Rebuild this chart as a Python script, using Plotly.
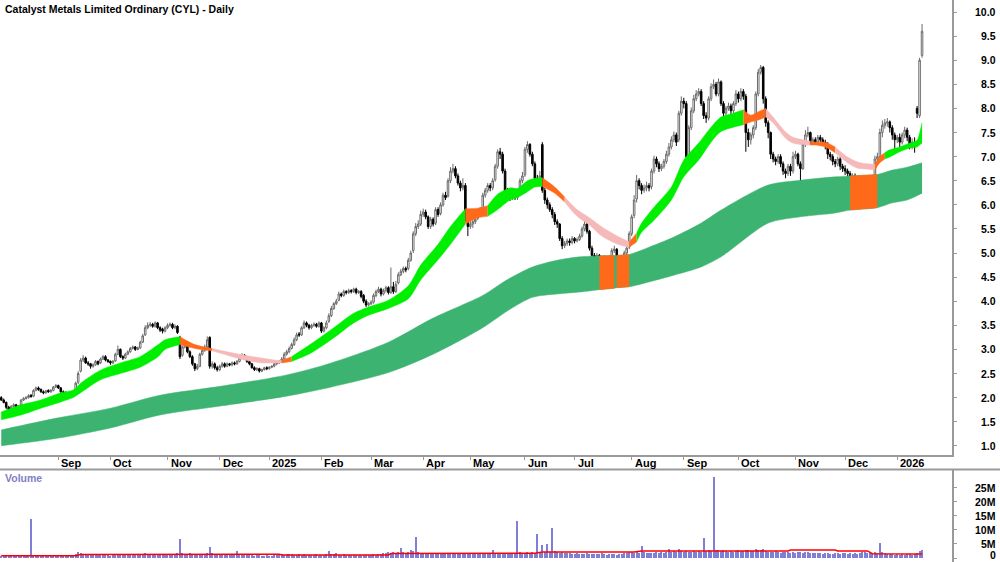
import numpy as np
import pandas as pd
import plotly.graph_objects as go

# ---------------- trading calendar (ASX) ----------------
holidays = pd.to_datetime(["2024-12-25", "2024-12-26", "2025-01-01", "2025-01-27", "2025-04-18",
                           "2025-04-21", "2025-04-25", "2025-06-09", "2025-12-25", "2025-12-26",
                           "2026-01-01"])
days = pd.bdate_range("2024-07-31", "2026-01-16")
days = days[~days.isin(holidays)]

# ---------------- price data ----------------
open_ = [2.00,1.95,1.90,1.80,1.76,1.82,1.85,1.80,1.84,1.95,
 1.98,2.00,2.05,2.03,2.15,2.20,2.17,2.12,2.10,2.15,
 2.12,2.15,2.22,2.25,2.20,2.12,2.10,2.08,2.05,2.10,
 2.10,2.32,2.55,2.78,2.82,2.72,2.70,2.65,2.68,2.75,
 2.72,2.80,2.85,2.78,2.75,2.72,2.76,2.90,3.00,2.85,
 2.82,2.90,2.95,3.02,3.05,3.00,3.03,3.15,3.30,3.45,
 3.50,3.52,3.48,3.55,3.45,3.42,3.38,3.45,3.50,3.52,
 3.45,3.48,3.25,2.88,3.05,3.10,2.95,2.85,2.70,2.60,
 2.65,2.90,2.98,3.05,3.25,2.65,2.70,2.62,2.58,2.65,
 2.70,2.65,2.70,2.68,2.72,2.70,2.75,2.82,2.88,2.80,
 2.75,2.70,2.62,2.58,2.60,2.55,2.58,2.62,2.60,2.63,
 2.65,2.70,2.72,2.75,2.80,2.90,2.95,3.02,3.10,3.20,
 3.32,3.30,3.45,3.55,3.50,3.45,3.50,3.52,3.48,3.55,
 3.38,3.45,3.58,3.70,3.85,3.95,4.02,4.15,4.12,4.20,
 4.18,4.22,4.20,4.25,4.18,4.20,4.12,4.00,3.92,3.95,
 3.98,4.12,4.20,4.25,4.15,4.22,4.28,4.18,4.30,4.20,
 4.38,4.55,4.62,4.68,4.68,4.85,5.05,5.40,5.55,5.60,
 5.80,5.85,5.75,5.55,5.70,5.62,5.90,5.82,6.00,6.20,
 6.18,6.50,6.70,6.75,6.60,6.45,6.35,6.40,5.72,5.55,
 5.60,5.65,5.72,5.80,5.90,6.20,6.30,6.40,6.35,6.52,
 6.80,7.10,7.05,6.70,6.30,6.20,6.15,6.25,6.15,6.22,
 6.50,6.62,7.15,7.25,7.05,6.85,6.55,6.50,7.25,6.30,
 6.10,6.00,5.90,5.80,5.65,5.60,5.30,5.15,5.20,5.25,
 5.22,5.30,5.25,5.28,5.35,5.50,5.60,5.45,5.10,4.95,
 4.90,4.95,4.88,4.92,4.85,4.82,4.90,5.05,5.08,4.80,
 4.75,4.85,5.00,5.12,5.40,5.78,6.12,6.50,6.40,6.30,
 6.35,6.40,6.38,6.70,6.95,6.85,6.75,6.80,6.90,7.05,
 7.20,7.35,7.45,7.35,7.90,8.15,8.10,7.00,7.60,7.95,
 8.20,8.30,8.35,8.10,7.85,7.80,8.20,8.45,8.50,8.30,
 8.55,8.10,7.90,8.00,8.05,7.95,8.10,8.30,8.20,8.35,
 8.25,7.50,7.35,7.45,7.60,8.30,8.75,8.85,8.20,7.70,
 7.50,7.05,6.95,6.90,7.00,6.85,6.70,6.65,6.80,6.70,
 7.00,7.05,6.85,6.75,7.25,7.45,7.50,7.30,7.35,7.30,
 7.40,7.35,7.30,7.25,7.05,7.00,6.90,6.85,6.95,6.80,
 6.75,6.70,6.65,6.55,6.60,6.50,6.55,6.45,6.30,6.15,
 6.50,6.45,6.55,6.95,7.00,7.50,7.65,7.70,7.72,7.60,
 7.45,7.35,7.40,7.30,7.45,7.55,7.40,7.25,7.30,8.00,
 7.85,9.10]

high = [2.03,1.98,1.92,1.83,1.84,1.88,1.87,1.85,1.97,2.01,
 2.03,2.07,2.07,2.17,2.23,2.23,2.19,2.15,2.16,2.17,
 2.18,2.24,2.28,2.27,2.22,2.15,2.13,2.10,2.12,2.13,
 2.33,2.55,2.82,2.88,2.85,2.76,2.72,2.71,2.78,2.77,
 2.83,2.88,2.88,2.80,2.77,2.78,2.93,3.08,3.02,2.88,
 2.93,2.98,3.05,3.08,3.07,3.06,3.18,3.32,3.50,3.56,
 3.57,3.55,3.58,3.57,3.48,3.45,3.48,3.54,3.56,3.55,
 3.52,3.50,3.28,3.08,3.15,3.12,2.98,2.88,2.72,2.70,
 2.93,3.02,3.10,3.27,3.27,2.75,2.73,2.66,2.68,2.74,
 2.73,2.73,2.72,2.75,2.75,2.78,2.85,2.92,2.90,2.83,
 2.78,2.72,2.65,2.63,2.62,2.60,2.64,2.65,2.65,2.67,
 2.73,2.75,2.78,2.84,2.94,2.99,3.06,3.14,3.25,3.35,
 3.36,3.48,3.60,3.58,3.53,3.53,3.56,3.55,3.58,3.57,
 3.48,3.60,3.75,3.90,3.98,4.05,4.20,4.18,4.24,4.23,
 4.26,4.25,4.28,4.28,4.23,4.23,4.15,4.04,3.98,4.02,
 4.16,4.24,4.30,4.28,4.26,4.32,4.31,4.70,4.40,4.42,
 4.60,4.67,4.72,4.72,4.90,5.05,5.45,5.62,5.68,5.88,
 5.92,5.90,5.78,5.75,5.74,5.95,5.95,6.05,6.25,6.27,
 6.55,6.78,6.85,6.80,6.65,6.50,6.55,6.45,5.78,5.68,
 5.70,5.75,5.85,5.95,6.25,6.35,6.45,6.45,6.55,6.85,
 7.15,7.18,7.10,6.75,6.35,6.25,6.30,6.30,6.25,6.55,
 6.68,7.20,7.32,7.28,7.10,6.90,6.62,6.70,7.30,6.35,
 6.15,6.05,5.95,5.85,5.70,5.62,5.35,5.25,5.30,5.30,
 5.35,5.33,5.32,5.40,5.55,5.72,5.65,5.48,5.15,5.00,
 5.00,4.98,4.95,4.95,4.88,4.95,5.10,5.15,5.10,4.85,
 4.90,5.05,5.18,5.45,5.80,6.20,6.62,6.55,6.45,6.42,
 6.48,6.45,6.75,7.02,7.00,6.90,6.85,6.95,7.12,7.28,
 7.42,7.52,7.50,7.95,8.25,8.22,8.15,7.65,8.02,8.28,
 8.38,8.42,8.40,8.15,7.92,8.25,8.52,8.60,8.55,8.62,
 8.58,8.15,8.05,8.12,8.10,8.15,8.38,8.35,8.42,8.40,
 8.30,7.58,7.50,7.65,8.35,8.82,8.90,8.88,8.25,7.75,
 7.52,7.10,7.00,7.05,7.05,6.90,6.75,6.85,6.85,7.10,
 7.12,7.08,6.90,7.30,7.55,7.62,7.52,7.40,7.40,7.45,
 7.45,7.40,7.35,7.30,7.10,7.05,6.95,7.00,7.00,6.85,
 6.82,6.75,6.70,6.65,6.65,6.60,6.60,6.50,6.35,6.55,
 6.60,6.62,7.02,7.08,7.58,7.75,7.78,7.80,7.75,7.65,
 7.50,7.45,7.48,7.50,7.62,7.60,7.45,7.38,7.40,8.05,
 9.05,9.75]

low = [1.93,1.88,1.76,1.72,1.74,1.80,1.78,1.78,1.82,1.93,
 1.96,1.98,2.00,2.01,2.13,2.14,2.10,2.07,2.08,2.10,
 2.10,2.13,2.20,2.18,2.10,2.07,2.05,2.02,2.03,2.05,
 2.08,2.28,2.52,2.74,2.70,2.66,2.60,2.62,2.66,2.67,
 2.70,2.78,2.75,2.72,2.68,2.70,2.74,2.88,2.82,2.78,
 2.80,2.88,2.93,3.00,2.97,2.98,3.01,3.13,3.28,3.42,
 3.46,3.45,3.45,3.42,3.36,3.33,3.35,3.42,3.47,3.42,
 3.42,3.32,2.80,2.85,3.02,2.92,2.82,2.66,2.55,2.57,
 2.63,2.87,2.95,3.02,2.60,2.60,2.58,2.54,2.55,2.62,
 2.62,2.63,2.65,2.65,2.67,2.68,2.73,2.80,2.78,2.72,
 2.67,2.60,2.55,2.55,2.52,2.53,2.56,2.57,2.58,2.61,
 2.63,2.67,2.70,2.73,2.78,2.87,2.92,3.00,3.07,3.17,
 3.26,3.28,3.42,3.46,3.41,3.42,3.47,3.45,3.45,3.34,
 3.35,3.42,3.55,3.67,3.82,3.92,4.00,4.08,4.09,4.14,
 4.15,4.16,4.17,4.14,4.15,4.06,3.96,3.88,3.89,3.92,
 3.95,4.08,4.17,4.10,4.12,4.18,4.14,4.15,4.15,4.17,
 4.35,4.52,4.58,4.60,4.64,4.82,5.00,5.35,5.50,5.56,
 5.75,5.70,5.50,5.50,5.55,5.58,5.75,5.78,5.96,6.10,
 6.15,6.45,6.65,6.55,6.40,6.28,6.30,5.65,5.35,5.50,
 5.52,5.60,5.68,5.75,5.85,6.15,6.25,6.28,6.30,6.48,
 6.75,6.95,6.65,6.25,6.12,6.08,6.10,6.10,6.10,6.18,
 6.45,6.58,7.08,7.00,6.80,6.50,6.42,6.45,6.25,6.02,
 5.92,5.85,5.72,5.58,5.52,5.25,5.08,5.10,5.15,5.15,
 5.18,5.20,5.22,5.25,5.32,5.45,5.40,5.05,4.88,4.82,
 4.85,4.83,4.84,4.80,4.76,4.78,4.86,5.00,4.72,4.62,
 4.68,4.80,4.95,5.08,5.35,5.72,6.05,6.32,6.22,6.25,
 6.28,6.28,6.32,6.65,6.78,6.68,6.70,6.75,6.85,7.00,
 7.15,7.30,7.22,7.30,7.85,8.00,6.95,6.95,7.55,7.90,
 8.15,8.25,8.05,7.78,7.70,7.75,8.15,8.40,8.25,8.25,
 8.05,7.82,7.85,7.95,7.88,7.90,8.05,8.12,8.15,8.18,
 7.10,7.20,7.25,7.38,7.55,8.25,8.70,8.10,7.62,7.38,
 6.95,6.88,6.82,6.85,6.78,6.62,6.55,6.60,6.60,6.65,
 6.95,6.80,6.45,6.72,7.20,7.40,7.25,7.25,7.25,7.25,
 7.30,7.25,7.15,6.95,6.92,6.82,6.78,6.80,6.72,6.68,
 6.62,6.58,6.48,6.50,6.42,6.45,6.38,6.22,6.05,6.10,
 6.38,6.40,6.50,6.85,6.95,7.40,7.58,7.62,7.50,7.35,
 7.10,7.28,7.20,7.25,7.38,7.32,7.15,7.15,7.08,7.80,
 7.80,9.05]

close = [1.95,1.90,1.80,1.75,1.82,1.85,1.80,1.83,1.95,1.98,
 2.00,2.04,2.02,2.15,2.20,2.17,2.12,2.10,2.14,2.12,
 2.15,2.22,2.25,2.20,2.12,2.10,2.08,2.05,2.10,2.08,
 2.30,2.50,2.78,2.82,2.72,2.70,2.65,2.68,2.75,2.70,
 2.80,2.85,2.78,2.75,2.72,2.75,2.90,3.00,2.85,2.82,
 2.90,2.95,3.02,3.05,3.00,3.03,3.15,3.28,3.45,3.50,
 3.52,3.48,3.55,3.45,3.40,3.38,3.45,3.50,3.52,3.45,
 3.48,3.35,2.85,3.05,3.10,2.95,2.85,2.70,2.60,2.65,
 2.90,2.98,3.05,3.20,2.65,2.70,2.62,2.58,2.65,2.70,
 2.65,2.70,2.68,2.72,2.70,2.75,2.82,2.88,2.80,2.75,
 2.70,2.62,2.58,2.60,2.55,2.58,2.62,2.60,2.63,2.65,
 2.70,2.72,2.75,2.80,2.90,2.95,3.02,3.10,3.20,3.30,
 3.30,3.45,3.55,3.50,3.45,3.50,3.52,3.48,3.55,3.38,
 3.45,3.55,3.70,3.85,3.95,4.00,4.15,4.12,4.20,4.18,
 4.22,4.20,4.25,4.18,4.20,4.10,4.00,3.92,3.95,3.98,
 4.12,4.20,4.25,4.15,4.22,4.28,4.18,4.30,4.20,4.35,
 4.55,4.62,4.68,4.65,4.85,5.00,5.40,5.55,5.60,5.80,
 5.85,5.75,5.55,5.70,5.60,5.90,5.80,6.00,6.20,6.15,
 6.50,6.70,6.75,6.60,6.45,6.35,6.40,5.70,5.55,5.60,
 5.65,5.70,5.80,5.88,6.20,6.30,6.40,6.35,6.50,6.80,
 7.10,7.05,6.70,6.30,6.20,6.15,6.25,6.15,6.20,6.50,
 6.60,7.15,7.25,7.05,6.85,6.55,6.50,6.60,6.30,6.10,
 6.00,5.90,5.80,5.65,5.60,5.30,5.15,5.20,5.25,5.22,
 5.30,5.25,5.28,5.35,5.50,5.60,5.45,5.10,4.95,4.90,
 4.95,4.88,4.92,4.85,4.82,4.90,5.05,5.08,4.80,4.75,
 4.85,5.00,5.10,5.40,5.75,6.10,6.50,6.40,6.30,6.35,
 6.40,6.35,6.70,6.95,6.85,6.75,6.80,6.90,7.05,7.20,
 7.35,7.45,7.30,7.90,8.15,8.10,7.00,7.60,7.95,8.20,
 8.30,8.35,8.10,7.85,7.80,8.20,8.45,8.50,8.30,8.55,
 8.10,7.90,8.00,8.05,7.95,8.10,8.30,8.20,8.35,8.25,
 7.50,7.35,7.45,7.60,8.30,8.75,8.85,8.20,7.70,7.50,
 7.05,6.95,6.90,7.00,6.85,6.70,6.65,6.80,6.70,7.00,
 7.05,6.85,6.75,7.25,7.45,7.50,7.30,7.35,7.30,7.40,
 7.35,7.30,7.25,7.05,7.00,6.90,6.85,6.95,6.80,6.75,
 6.70,6.65,6.55,6.60,6.50,6.55,6.45,6.30,6.15,6.50,
 6.45,6.55,6.95,7.00,7.50,7.65,7.70,7.72,7.60,7.45,
 7.35,7.40,7.30,7.45,7.55,7.40,7.25,7.30,7.20,7.90,
 9.00,9.60]

# volume in millions
volume_m = [0.6,0.8,0.9,0.7,0.6,0.8,0.9,0.7,0.8,0.9,
 1.0,0.9,13.8,1.2,1.0,0.8,0.7,0.9,0.8,0.7,
 0.8,0.9,0.7,0.8,0.6,0.7,0.8,0.7,0.9,1.0,
 1.4,2.1,1.6,1.2,1.0,0.9,1.1,1.0,0.9,1.2,
 1.0,1.1,0.9,1.0,0.8,1.2,1.4,1.5,1.1,1.0,
 1.0,1.2,1.1,1.3,1.0,1.1,1.3,1.5,1.6,1.4,
 1.2,1.1,1.3,1.0,0.9,1.1,1.0,1.2,1.1,1.0,
 1.3,1.8,6.7,1.9,1.5,1.3,1.6,1.4,1.2,1.1,
 1.3,1.2,1.4,1.6,3.9,1.8,1.3,1.1,1.0,1.2,
 1.1,1.0,1.2,1.3,1.1,2.5,1.4,1.2,1.1,1.0,
 0.9,1.0,0.8,0.9,1.0,0.8,0.7,0.9,0.8,0.7,
 0.9,1.0,1.1,1.3,1.2,1.4,1.3,1.5,1.2,1.1,
 1.3,1.2,1.4,1.1,1.0,1.2,1.1,1.3,1.0,1.1,
 1.2,1.5,2.6,1.4,1.3,1.6,1.2,1.1,1.3,1.2,
 1.1,1.0,1.2,1.1,0.9,1.0,1.2,1.1,1.0,1.1,
 1.3,1.2,1.4,1.5,1.8,1.6,2.0,1.9,2.2,1.7,
 2.0,3.5,2.1,1.8,2.3,2.7,2.4,7.4,2.0,1.8,
 1.6,1.7,1.5,1.4,1.6,1.5,1.7,1.4,1.6,1.5,
 1.8,1.6,1.5,1.4,1.6,1.5,1.3,1.9,1.7,1.5,
 1.4,1.6,1.5,1.3,1.7,1.6,1.5,1.8,2.8,1.7,
 1.9,1.6,1.8,1.5,1.4,1.6,1.5,1.7,13.1,2.2,
 1.9,1.8,2.0,1.7,2.1,1.9,8.5,2.2,4.6,2.0,
 4.8,2.3,10.6,2.5,2.1,1.9,2.0,1.8,1.6,1.7,
 1.5,1.4,1.6,1.3,1.5,1.4,1.6,1.5,1.3,1.4,
 1.5,1.3,1.6,1.4,1.2,1.5,1.4,1.3,1.2,1.4,
 1.5,1.6,1.8,2.0,2.1,1.9,2.2,1.8,4.2,2.0,
 1.7,1.9,1.6,1.8,2.0,1.7,2.2,1.9,2.3,3.3,
 2.1,2.4,2.0,3.3,2.6,2.2,2.5,2.3,2.1,2.4,
 2.0,2.6,2.2,7.1,2.4,2.8,2.6,28.8,3.0,2.7,
 2.5,2.8,2.4,2.2,2.6,2.3,2.5,2.7,2.4,2.6,
 3.0,2.8,2.5,2.6,3.1,2.9,2.7,3.2,2.5,2.3,
 2.2,2.0,2.4,2.1,1.9,2.3,2.0,2.2,1.8,2.1,
 1.9,2.2,2.0,1.8,2.3,2.1,1.9,1.7,1.8,1.6,
 1.7,1.5,1.6,1.8,1.5,1.4,1.7,1.6,1.5,1.8,
 1.6,1.5,1.7,1.4,1.6,1.5,1.8,2.0,2.2,1.9,
 1.7,1.8,2.1,1.9,5.3,2.0,1.6,1.4,1.3,1.5,
 1.2,1.3,1.1,1.4,1.2,1.3,1.5,1.2,1.4,1.9,
 2.4,2.7]

# volume average line (red), sampled: bar index -> millions
vavg_idx = [0, 30, 32, 64, 112, 113, 156, 157, 215, 218, 255, 258, 317, 318, 336, 337, 349, 351, 371]
vavg_m = [0.8, 0.8, 1.2, 1.3, 1.3, 1.05, 1.1, 1.6, 1.7, 2.1, 2.1, 2.5, 2.5, 2.8, 2.8, 2.5, 2.5, 1.5, 1.4]

# short-term ribbon (upper / lower edge) sampled at bar index
sb_idx = [0, 8, 16, 24, 29, 32, 40, 48, 56, 63, 66, 72, 78, 85, 91, 98, 105, 110, 113, 117,
          125, 134, 142, 148, 156, 164, 169, 176, 181, 187, 192, 196, 200, 205, 208, 212, 215,
          218, 223, 227, 232, 237, 242, 249, 253, 256, 258, 263, 270, 275, 281, 286, 290, 295,
          299, 302, 305, 308, 311, 316, 319, 324, 326, 328, 332, 336, 341, 345, 349, 352, 354,
          356, 358, 362, 366, 369, 370, 371]
sb_top = [1.70, 1.85, 1.95, 2.10, 2.16, 2.30, 2.57, 2.72, 2.85, 3.09, 3.20, 3.26, 3.10, 3.02,
          2.95, 2.88, 2.82, 2.78, 2.77, 2.85, 3.12, 3.45, 3.75, 3.88, 4.02, 4.32, 4.75, 5.18,
          5.55, 5.92, 5.93, 5.98, 6.22, 6.35, 6.34, 6.50, 6.55, 6.56, 6.37, 6.16, 5.90, 5.73,
          5.54, 5.33, 5.23, 5.41, 5.62, 5.95, 6.37, 6.93, 7.28, 7.61, 7.82, 7.90, 7.97, 7.86,
          7.93, 8.00, 7.82, 7.51, 7.40, 7.34, 7.32, 7.30, 7.30, 7.20, 6.99, 6.89, 6.85, 6.84,
          7.00, 7.08, 7.14, 7.20, 7.28, 7.34, 7.49, 7.70]
sb_bot = [1.54, 1.64, 1.78, 1.91, 2.00, 2.10, 2.37, 2.50, 2.63, 2.84, 3.00, 3.10, 3.02, 2.97,
          2.88, 2.78, 2.72, 2.72, 2.72, 2.75, 2.93, 3.24, 3.55, 3.71, 3.85, 4.05, 4.44, 4.86,
          5.18, 5.60, 5.73, 5.76, 5.90, 6.10, 6.15, 6.27, 6.37, 6.38, 6.24, 6.06, 5.76, 5.58,
          5.35, 5.17, 5.12, 5.23, 5.43, 5.68, 6.10, 6.58, 6.93, 7.30, 7.52, 7.61, 7.66, 7.72,
          7.76, 7.82, 7.70, 7.38, 7.28, 7.24, 7.24, 7.24, 7.20, 7.08, 6.87, 6.76, 6.74, 6.72,
          6.87, 6.95, 6.99, 7.10, 7.18, 7.20, 7.24, 7.28]
sb_segments = [(0, 72, "green"), (72, 85, "orange"), (85, 113, "pink"), (113, 117, "orange"),
               (117, 187, "green"), (187, 196, "orange"), (196, 218, "green"), (218, 227, "orange"),
               (227, 253, "pink"), (253, 256, "orange"), (256, 299, "green"), (299, 308, "orange"),
               (308, 326, "pink"), (326, 336, "orange"), (336, 352, "pink"), (352, 356, "orange"),
               (356, 371, "green")]

# long-term ribbon
lb_idx = [0, 23, 44, 64, 89, 115, 133, 156, 174, 194, 204, 214, 224, 233, 241, 247, 248, 253,
          261, 271, 282, 290, 309, 322, 336, 342, 353, 359, 365, 371]
lb_top = [1.33, 1.58, 1.78, 2.05, 2.24, 2.47, 2.72, 3.15, 3.65, 4.12, 4.45, 4.71, 4.85, 4.92,
          4.94, 4.95, 4.95, 4.97, 5.12, 5.33, 5.62, 5.89, 6.41, 6.51, 6.58, 6.60, 6.63, 6.72,
          6.78, 6.87]
lb_bot = [1.00, 1.16, 1.37, 1.64, 1.83, 2.03, 2.22, 2.52, 2.90, 3.45, 3.80, 4.08, 4.15, 4.19,
          4.24, 4.27, 4.28, 4.30, 4.40, 4.54, 4.71, 4.92, 5.62, 5.75, 5.83, 5.89, 5.94, 6.04,
          6.10, 6.24]
lb_orange = [(241, 247), (248, 253), (342, 353)]

month_labels = ["Sep", "Oct", "Nov", "Dec", "2025", "Feb", "Mar", "Apr", "May", "Jun", "Jul",
                "Aug", "Sep", "Oct", "Nov", "Dec", "2026"]
price_ticks = [1.0, 1.5, 2.0, 2.5, 3.0, 3.5, 4.0, 4.5, 5.0, 5.5, 6.0, 6.5, 7.0, 7.5, 8.0, 8.5,
               9.0, 9.5, 10.0]
vol_ticks = [0, 5, 10, 15, 20, 25]
vol_tick_labels = ["0", "5M", "10M", "15M", "20M", "25M"]

# ---------------- styling ----------------
COL = {"green": "#00ee00", "pink": "#f6b9b9", "orange": "#ff6a1a"}
LONG_GREEN = "#3cb371"
W, H = 1000, 562
PLOT_R = 952          # px, right edge of plotting area
PRICE_BOTTOM = 455    # px
VOL_TOP = 470         # px

n = len(close)
assert len(open_) == n == len(high) == len(low) == len(volume_m) == len(days)
xi = np.arange(n)

fig = go.Figure()


def band(ix, top, bot, a, b, color, smooth=True):
    ix = np.asarray(ix); top = np.asarray(top); bot = np.asarray(bot)
    m = (ix >= a) & (ix <= b)
    shape = "spline" if (smooth and m.sum() > 2) else "linear"
    fig.add_trace(go.Scatter(x=ix[m], y=bot[m], mode="lines",
                             line=dict(color=color, width=0.5, shape=shape, smoothing=0.8),
                             hoverinfo="skip", showlegend=False, xaxis="x", yaxis="y"))
    fig.add_trace(go.Scatter(x=ix[m], y=top[m], mode="lines", fill="tonexty", fillcolor=color,
                             line=dict(color=color, width=0.5, shape=shape, smoothing=0.8),
                             hoverinfo="skip", showlegend=False, xaxis="x", yaxis="y"))


band(lb_idx, lb_top, lb_bot, 0, n, LONG_GREEN)
for a, b in lb_orange:
    band(lb_idx, lb_top, lb_bot, a, b, COL["orange"], smooth=False)
for a, b, c in sb_segments:
    band(sb_idx, sb_top, sb_bot, a, b, COL[c])

fig.add_trace(go.Candlestick(
    x=xi, open=open_, high=high, low=low, close=close,
    increasing=dict(line=dict(color="#6a6a6a", width=1), fillcolor="white"),
    decreasing=dict(line=dict(color="black", width=1), fillcolor="black"),
    whiskerwidth=0, showlegend=False, xaxis="x", yaxis="y"))

fig.add_trace(go.Bar(x=xi, y=np.array(volume_m) * 1e6, marker=dict(color="#7f7fd6", line=dict(width=0)),
                     width=0.45, showlegend=False, xaxis="x2", yaxis="y2"))
fig.add_trace(go.Scatter(x=vavg_idx, y=np.array(vavg_m) * 1e6, mode="lines",
                         line=dict(color="#ff0000", width=1.5), showlegend=False,
                         xaxis="x2", yaxis="y2"))

# x mapping: ~2.482 px per trading day
px_per_bar = 2.482
x_range = [-0.5, -0.5 + PLOT_R / px_per_bar]

# month start positions
month_start = [i for i in range(1, n) if days[i].month != days[i - 1].month]
month_pos = [i for i in month_start if days[i] >= pd.Timestamp("2024-09-01")]

p_top = 10.0 + 12 / 48.2
p_bot = 10.0 - (PRICE_BOTTOM - 12) / 48.2
v_top = (558 - VOL_TOP) / 2.82
v_bot = -(562 - 558) / 2.82

axis_line = "#9a9a9a"
fig.update_layout(
    width=W, height=H, autosize=False,
    margin=dict(l=0, r=0, t=0, b=0),
    paper_bgcolor="white", plot_bgcolor="white",
    font=dict(family="Arial, Liberation Sans, sans-serif", color="black"),
    boxgap=0.1,
    xaxis=dict(domain=[0, PLOT_R / W], range=x_range, showgrid=False, zeroline=False,
               showticklabels=False, tickvals=month_pos, ticks="outside", ticklen=3,
               tickcolor=axis_line, showline=True, linecolor=axis_line, linewidth=2,
               rangeslider=dict(visible=False), anchor="y", fixedrange=True),
    yaxis=dict(domain=[1 - PRICE_BOTTOM / H, 1], range=[p_bot, p_top], side="right",
               showgrid=False, zeroline=False, showticklabels=False, tickvals=price_ticks,
               ticks="outside", ticklen=3, tickcolor=axis_line, showline=True,
               linecolor=axis_line, linewidth=2, anchor="x"),
    xaxis2=dict(domain=[0, PLOT_R / W], range=x_range, showgrid=False, zeroline=False,
                showticklabels=False, showline=False, anchor="y2", matches="x"),
    yaxis2=dict(domain=[0, (H - VOL_TOP) / H], range=[v_bot * 1e6, v_top * 1e6], side="right",
                showgrid=False, zeroline=False, showticklabels=False,
                tickvals=[v * 1e6 for v in vol_ticks], ticks="outside", ticklen=3,
                tickcolor=axis_line, showline=True, linecolor=axis_line, linewidth=2,
                anchor="x2"),
    showlegend=False,
    bargap=0,
)

# horizontal line below the month-label band (full width)
fig.add_shape(type="line", xref="paper", yref="paper", x0=0, x1=1,
              y0=(H - VOL_TOP + 0.5) / H, y1=(H - VOL_TOP + 0.5) / H,
              line=dict(color=axis_line, width=2))

ann = []
ann.append(dict(text="<b>Catalyst Metals Limited Ordinary (CYL) - Daily</b>", xref="paper", yref="paper",
                x=3 / W, y=1 - 9 / H, xanchor="left", yanchor="middle", showarrow=False,
                font=dict(size=10.5, color="black")))
ann.append(dict(text="<b>Volume</b>", xref="paper", yref="paper", x=3 / W, y=1 - 478 / H,
                xanchor="left", yanchor="middle", showarrow=False,
                font=dict(size=10.5, color="#7f7fc4")))
for pos, lab in zip(month_pos, month_labels):
    ann.append(dict(text=f"<b>{lab}</b>", xref="x", yref="paper", x=pos, y=1 - 462.5 / H,
                    xanchor="left", yanchor="middle", xshift=1, showarrow=False,
                    font=dict(size=11, color="black")))
for v in price_ticks:
    ann.append(dict(text=f"<b>{v:.1f}</b>", xref="paper", yref="y", x=998 / W, y=v,
                    xanchor="right", yanchor="middle", showarrow=False,
                    font=dict(size=10.5, color="black")))
for v, lab in zip(vol_ticks, vol_tick_labels):
    ann.append(dict(text=f"<b>{lab}</b>", xref="paper", yref="y2", x=998 / W, y=v * 1e6,
                    xanchor="right", yanchor="middle", yshift=(3 if v == 0 else 0),
                    showarrow=False, font=dict(size=10.5, color="black")))
fig.update_layout(annotations=ann)

fig.write_html("out.html")
